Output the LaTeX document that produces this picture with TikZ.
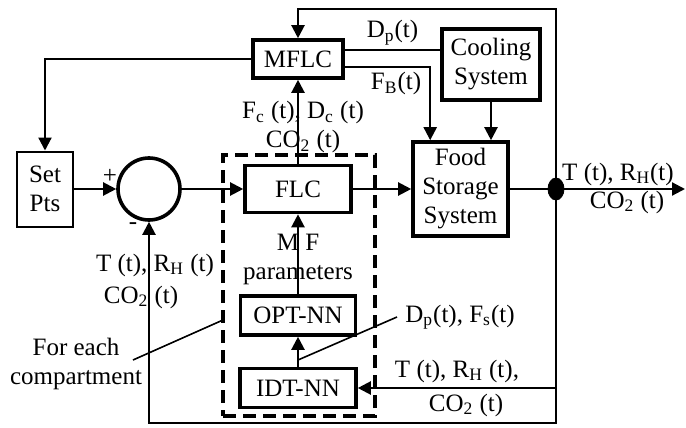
\documentclass[tikz,border=0pt]{standalone}
\usepackage{fontspec}
\setmainfont{Liberation Serif}
\usepackage{tikz}
\usetikzlibrary{positioning,shapes.geometric,arrows.meta}
\tikzset{
  block/.style={draw, line width=1.8pt, align=center, inner sep=1pt},
  setbox/.style={draw, line width=1pt, align=center, inner sep=1pt},
  sumnode/.style={draw, circle, line width=1.8pt, minimum size=31pt, inner sep=0pt},
  junction/.style={draw, ellipse, fill=black, minimum width=8pt, minimum height=11pt, inner sep=0pt},
  grpbox/.style={draw, line width=1.7pt, dash pattern=on 6.5pt off 3.5pt, inner sep=0pt},
  arrow/.style={-{Triangle[length=6.5pt,width=6.5pt]}, line width=1.1pt},
  wire/.style={line width=1.1pt},
  pointer/.style={line width=0.8pt},
  sig/.style={inner sep=2pt, align=center}
}

\begin{document}
\begin{tikzpicture}[x=0.5pt, y=-0.5pt, font=\fontsize{12.5}{14.5}\selectfont]
  \useasboundingbox (0,0) rectangle (686,428);

  % blocks
  \node[block, minimum width=45pt, minimum height=19pt] (mflc) at (298,59) {MFLC};
  \node[block, minimum width=49pt, minimum height=35.5pt] (cool) at (491,64.5) {Cooling\\System};
  \node[block, minimum width=47.5pt, minimum height=47pt] (food) at (460.5,189) {Food\\Storage\\System};
  \node[block, minimum width=53pt, minimum height=23.5pt] (flc) at (298,189) {FLC};
  \node[block, minimum width=57.5pt, minimum height=19.5pt] (opt) at (298,315.5) {OPT-NN};
  \node[block, minimum width=58pt, minimum height=19.5pt] (idt) at (298,388) {IDT-NN};
  \node[setbox, minimum width=28pt, minimum height=37.5pt] (setpts) at (45,189) {Set\\Pts};
  \node[sumnode] (sum) at (149,189) {};
  \node[grpbox, minimum width=76pt, minimum height=130.5pt] (grp) at (299,285.5) {};
  \node[junction] (jn) at (556,189) {};

  \node (plus) at (110,176) {+};
  \node (minus) at (133,226) {-};

  \coordinate (topR) at (556,9);
  \coordinate (botR) at (556,423);
  \coordinate (idtIn) at (556,388);
  \coordinate (outR) at (685,189);

  % signal paths
  \draw[arrow] (jn.center) -- (topR) -| (mflc.north);
  \draw[arrow] (jn.center) -- (botR) -| (sum.south);
  \draw[arrow] (idtIn) -- (idt.east);
  \draw[arrow] (food.east) -- (outR);
  \draw[arrow] (flc.east) -- (food.west);
  \draw[arrow] (sum.east) -- (flc.west);
  \draw[arrow] (setpts.east) -- (sum.west);
  \draw[arrow] (mflc.west) -| (setpts.north);
  \draw[wire] ([yshift=4.5pt]mflc.east) -- ([yshift=4.5pt]mflc.east -| cool.west)
    node[sig, midway, above] {D\textsubscript{p}(t)};
  \draw[arrow] ([yshift=-4pt]mflc.east) -| ([xshift=9.5pt]food.north west)
    node[sig, pos=0.3, below] {F\textsubscript{B}(t)};
  \draw[arrow] (cool.south) -- (cool.south |- food.north);
  \draw[arrow] (flc.north) -- (mflc.south);
  \draw[arrow] (opt.north) -- (flc.south);
  \draw[arrow] (idt.north) -- (opt.south);

  % labels
  \node[sig] (fcdc) at (303,127) {F\textsubscript{c} (t), D\textsubscript{c} (t)\\CO\textsubscript{2} (t)};
  \node[sig] (mfpar) at (298,259) {M F\\parameters};
  \node[sig] (fbkA) at (155,265) {T (t), R\textsubscript{H} (t)};
  \node[sig] (fbkB) at (141,297) {CO\textsubscript{2} (t)};
  \node[sig] (outA) at (618,174) {T (t), R\textsubscript{H}(t)};
  \node[sig] (outB) at (627,202) {CO\textsubscript{2} (t)};
  \node[sig] (idtA) at (457,371) {T (t), R\textsubscript{H} (t),};
  \node[sig] (idtB) at (466,405) {CO\textsubscript{2} (t)};
  \node[sig, anchor=west] (dpfs) at (401,317) {D\textsubscript{p}(t), F\textsubscript{s}(t)};
  \node[sig] (cmpt) at (76,364) {For each\\compartment};

  \coordinate (dpfsPt) at (298,360);
  \coordinate (cmptA) at (133,360);
  \coordinate (cmptB) at (223,320);
  \draw[pointer] (dpfsPt) -- ([xshift=-2pt]dpfs.west);
  \draw[pointer] (cmptA) -- (cmptB);

\end{tikzpicture}
\end{document}
